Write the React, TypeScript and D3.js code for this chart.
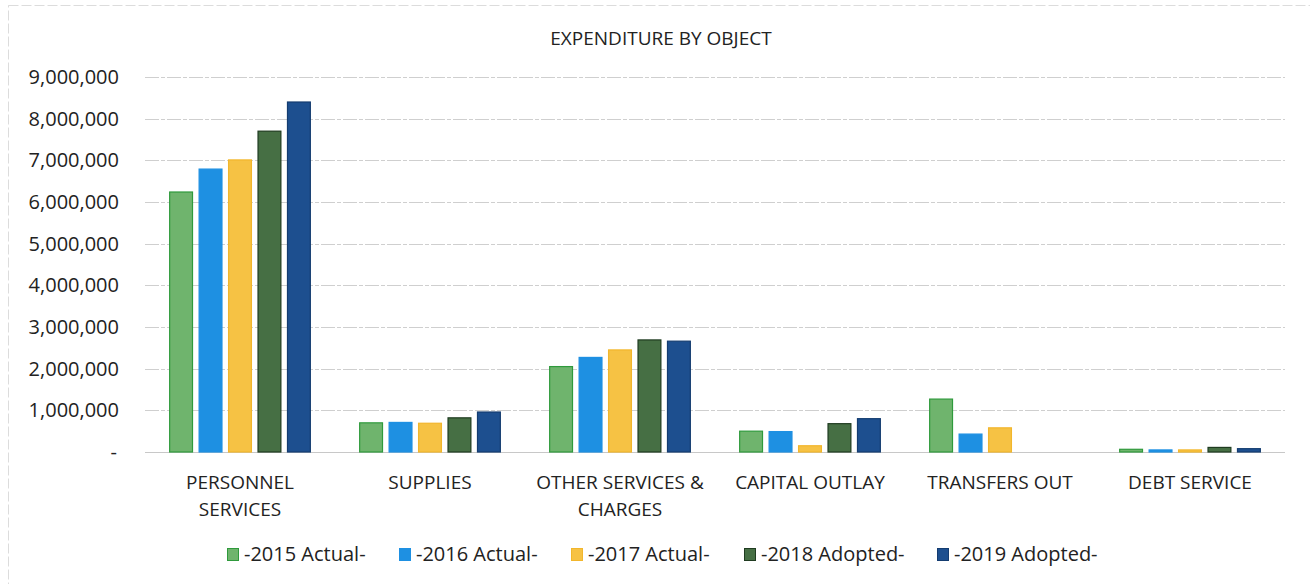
import * as d3 from 'd3';

// Data
const categories = [
  ['PERSONNEL', 'SERVICES'],
  ['SUPPLIES'],
  ['OTHER SERVICES &', 'CHARGES'],
  ['CAPITAL OUTLAY'],
  ['TRANSFERS OUT'],
  ['DEBT SERVICE'],
];
const seriesNames = ['-2015 Actual-', '-2016 Actual-', '-2017 Actual-', '-2018 Adopted-', '-2019 Adopted-'];
const actual2015 = [6240000, 700000, 2050000, 500000, 1270000, 65000];
const actual2016 = [6790000, 710000, 2270000, 490000, 430000, 50000];
const actual2017 = [7010000, 690000, 2450000, 150000, 580000, 50000];
const adopted2018 = [7700000, 820000, 2690000, 680000, 0, 110000];
const adopted2019 = [8400000, 960000, 2660000, 800000, 0, 80000];
const yTicks = [0, 1000000, 2000000, 3000000, 4000000, 5000000, 6000000, 7000000, 8000000, 9000000];

const seriesValues = [actual2015, actual2016, actual2017, adopted2018, adopted2019];
const fills = ['#6fb46d', '#1e90e2', '#f6c244', '#466f44', '#1d4f8f'];
const strokes = ['#2f9a3c', '#1e90e2', '#f2b62c', '#1f3b20', '#143c70'];

const W = 1310;
const H = 584;
const FONT = "'Open Sans', 'Liberation Sans', sans-serif";
const legendX = [227, 399, 571, 744, 937];

export default function App() {
  const keys = categories.map((_, i) => String(i));
  const x0 = d3.scaleBand<string>().domain(keys).range([145, 1285]);
  const x1 = d3
    .scaleBand<number>()
    .domain(d3.range(seriesNames.length))
    .range([0, x0.bandwidth()])
    .paddingInner(0.19)
    .paddingOuter(0.82);
  const y = d3.scaleLinear().domain([0, 9000000]).range([452, 77]);
  const fmt = d3.format(',');

  return (
    <svg
      width={W}
      height={H}
      style={{ position: 'absolute', left: 0, top: 0, background: '#fff' }}
      fontFamily={FONT}
    >
      <rect x={8.5} y={5.5} width={W - 8} height={H} fill="none" stroke="#dcdcdc" strokeDasharray="10,3" />

      <text x={661} y={45} textAnchor="middle" fontSize={19} fill="#222">
        EXPENDITURE BY OBJECT
      </text>

      {/* gridlines */}
      {yTicks.map((t) => (
        <line
          key={t}
          x1={145}
          x2={1285}
          y1={Math.round(y(t)) + 0.5}
          y2={Math.round(y(t)) + 0.5}
          stroke={t === 0 ? '#c8c8c8' : '#cfcfcf'}
          strokeWidth={1}
          strokeDasharray={t === 0 ? undefined : '14,2,4,2'}
        />
      ))}

      {/* y tick labels */}
      {yTicks.map((t) => (
        <text
          key={'l' + t}
          x={t === 0 ? 117 : 119}
          y={y(t) + 7}
          textAnchor="end"
          fontSize={20}
          fill="#222"
        >
          {t === 0 ? '-' : fmt(t)}
        </text>
      ))}

      {/* bars */}
      {keys.map((k, ci) => (
        <g key={k} transform={`translate(${x0(k)},0)`}>
          {seriesValues.map((vals, si) => {
            const v = vals[ci];
            if (!v) return null;
            return (
              <rect
                key={si}
                x={x1(si)! + 0.5}
                y={y(v)}
                width={x1.bandwidth() - 1}
                height={y(0) - y(v)}
                fill={fills[si]}
                stroke={strokes[si]}
                strokeWidth={1.2}
              />
            );
          })}
        </g>
      ))}

      {/* category labels */}
      {categories.map((lines, i) => (
        <text
          key={'c' + i}
          x={x0(String(i))! + x0.bandwidth() / 2}
          y={489}
          textAnchor="middle"
          fontSize={19}
          fill="#222"
        >
          {lines.map((ln, j) => (
            <tspan key={j} x={x0(String(i))! + x0.bandwidth() / 2} dy={j === 0 ? 0 : 27}>
              {ln}
            </tspan>
          ))}
        </text>
      ))}

      {/* legend */}
      {seriesNames.map((name, i) => (
        <g key={name} transform={`translate(${legendX[i]},548)`}>
          <rect x={0.5} y={0.5} width={11} height={12} fill={fills[i]} stroke={strokes[i]} />
          <text x={17} y={12.5} fontSize={20} fill="#222">
            {name}
          </text>
        </g>
      ))}
    </svg>
  );
}
